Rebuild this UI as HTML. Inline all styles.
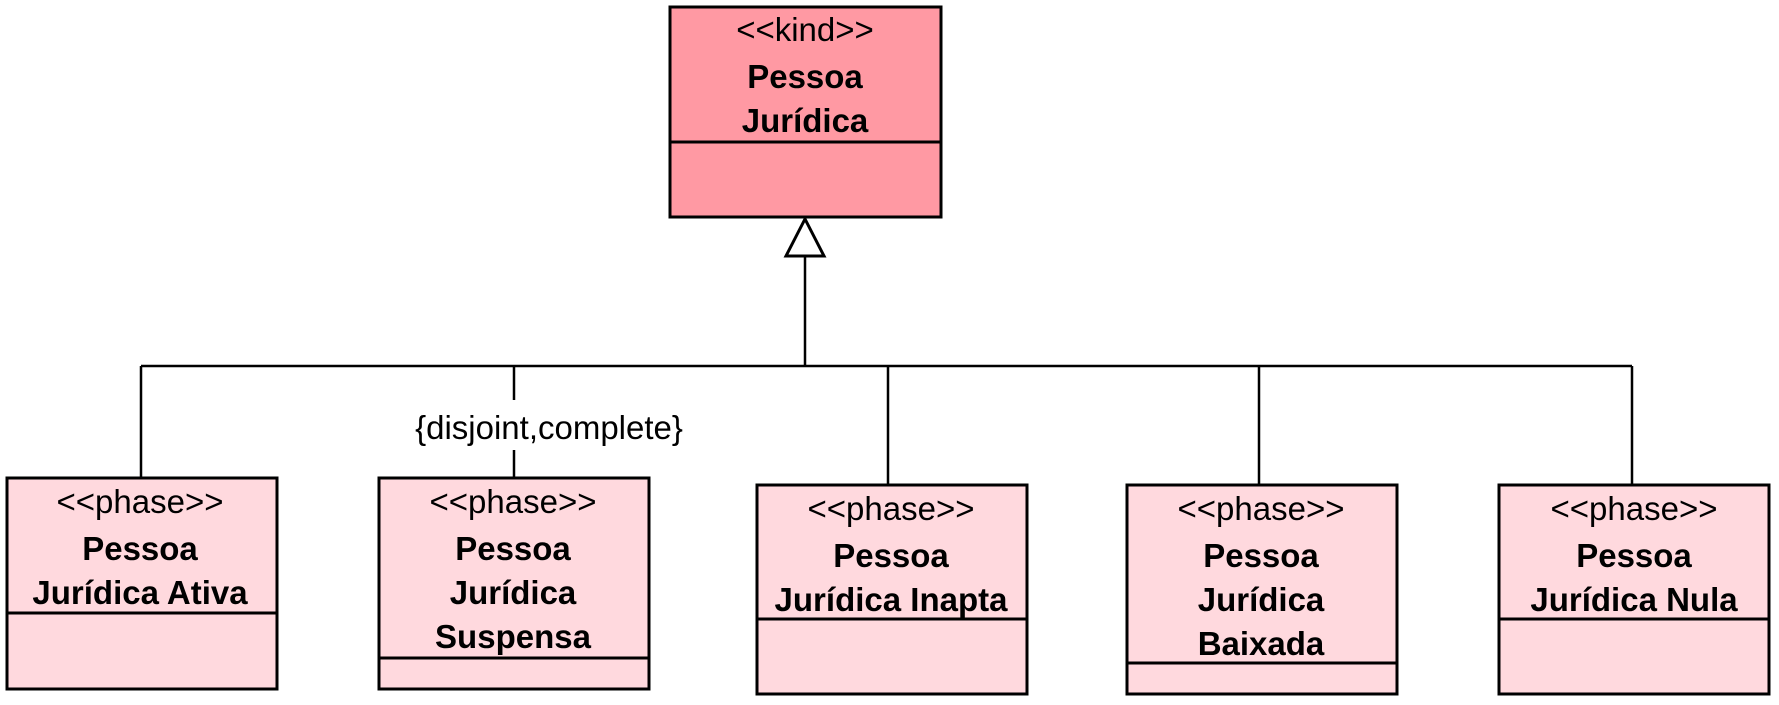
<!DOCTYPE html>
<html><head><meta charset="utf-8"><style>
html,body{margin:0;padding:0;background:#fff;}
svg{display:block;}
text{font-family:"Liberation Sans",Arial,sans-serif;font-size:33px;fill:#000;}
.b{font-weight:bold;}
</style></head><body>
<svg width="1779" height="705" viewBox="0 0 1779 705" xmlns="http://www.w3.org/2000/svg">
<g stroke="#000" stroke-width="2.5" fill="none">
<line x1="141" y1="366" x2="1632" y2="366"/>
<line x1="805" y1="256" x2="805" y2="366"/>
<line x1="141" y1="366" x2="141" y2="478"/>
<line x1="514" y1="366" x2="514" y2="400"/>
<line x1="514" y1="450" x2="514" y2="478"/>
<line x1="888" y1="366" x2="888" y2="485"/>
<line x1="1259" y1="366" x2="1259" y2="485"/>
<line x1="1632" y1="366" x2="1632" y2="485"/>
</g>
<g stroke="#000" stroke-width="3">
<rect x="670" y="7" width="271" height="210" fill="#ff99a3"/>
<line x1="670" y1="142" x2="941" y2="142"/>
<polygon points="805,219 786,256 824,256" fill="#fff"/>
<rect x="7" y="478" width="270" height="211" fill="#ffd9de"/>
<line x1="7" y1="613" x2="277" y2="613"/>
<rect x="379" y="478" width="270" height="211" fill="#ffd9de"/>
<line x1="379" y1="658" x2="649" y2="658"/>
<rect x="757" y="485" width="270" height="209" fill="#ffd9de"/>
<line x1="757" y1="619" x2="1027" y2="619"/>
<rect x="1127" y="485" width="270" height="209" fill="#ffd9de"/>
<line x1="1127" y1="663" x2="1397" y2="663"/>
<rect x="1499" y="485" width="270" height="209" fill="#ffd9de"/>
<line x1="1499" y1="619" x2="1769" y2="619"/>
</g>
<g text-anchor="middle">
<text x="805" y="41">&lt;&lt;kind&gt;&gt;</text>
<text class="b" x="805" y="88">Pessoa</text>
<text class="b" x="805" y="132">Jurídica</text>

<text x="140" y="513">&lt;&lt;phase&gt;&gt;</text>
<text class="b" x="140" y="560">Pessoa</text>
<text class="b" x="140" y="604">Jurídica Ativa</text>

<text x="513" y="513">&lt;&lt;phase&gt;&gt;</text>
<text class="b" x="513" y="560">Pessoa</text>
<text class="b" x="513" y="604">Jurídica</text>
<text class="b" x="513" y="648">Suspensa</text>

<text x="891" y="520">&lt;&lt;phase&gt;&gt;</text>
<text class="b" x="891" y="567">Pessoa</text>
<text class="b" x="891" y="611">Jurídica Inapta</text>

<text x="1261" y="520">&lt;&lt;phase&gt;&gt;</text>
<text class="b" x="1261" y="567">Pessoa</text>
<text class="b" x="1261" y="611">Jurídica</text>
<text class="b" x="1261" y="655">Baixada</text>

<text x="1634" y="520">&lt;&lt;phase&gt;&gt;</text>
<text class="b" x="1634" y="567">Pessoa</text>
<text class="b" x="1634" y="611">Jurídica Nula</text>

<text x="549" y="439">{disjoint,complete}</text>
</g>
</svg>
</body></html>
